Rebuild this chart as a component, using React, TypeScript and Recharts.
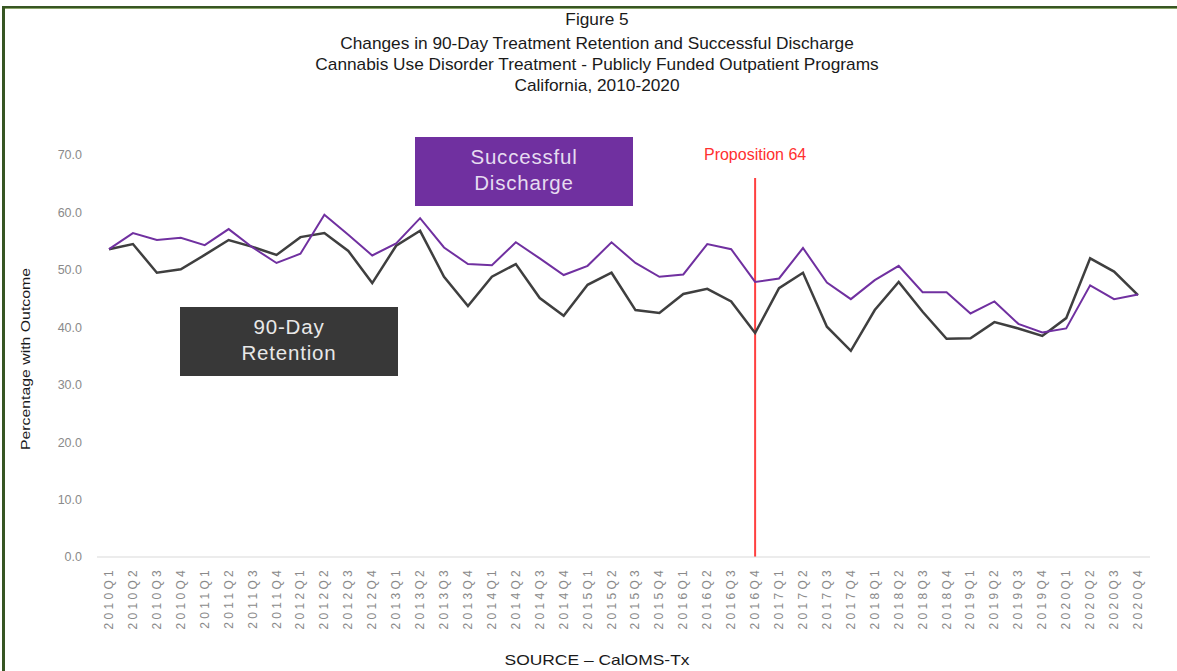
import React from "react";
import { LineChart, Line, XAxis, YAxis, ReferenceLine } from "recharts";

const categories = [
  "2010Q1","2010Q2","2010Q3","2010Q4",
  "2011Q1","2011Q2","2011Q3","2011Q4",
  "2012Q1","2012Q2","2012Q3","2012Q4",
  "2013Q1","2013Q2","2013Q3","2013Q4",
  "2014Q1","2014Q2","2014Q3","2014Q4",
  "2015Q1","2015Q2","2015Q3","2015Q4",
  "2016Q1","2016Q2","2016Q3","2016Q4",
  "2017Q1","2017Q2","2017Q3","2017Q4",
  "2018Q1","2018Q2","2018Q3","2018Q4",
  "2019Q1","2019Q2","2019Q3","2019Q4",
  "2020Q1","2020Q2","2020Q3","2020Q4",
];

const successfulDischarge = [
  53.6, 56.4, 55.2, 55.6,
  54.3, 57.1, 53.9, 51.2,
  52.8, 59.6, 56.1, 52.5,
  54.6, 59.0, 53.9, 51.0,
  50.8, 54.8, 52.0, 49.1,
  50.7, 54.8, 51.2, 48.8,
  49.2, 54.5, 53.6, 47.9,
  48.5, 53.8, 47.8, 44.9,
  48.2, 50.7, 46.1, 46.1,
  42.4, 44.5, 40.6, 39.1,
  39.8, 47.3, 44.9, 45.7,
];

const retention90Day = [
  53.6, 54.5, 49.5, 50.1,
  52.6, 55.2, 54.0, 52.6,
  55.7, 56.4, 53.3, 47.7,
  54.2, 56.8, 48.8, 43.7,
  48.8, 51.0, 45.1, 42.0,
  47.4, 49.5, 43.0, 42.5,
  45.8, 46.7, 44.5, 39.0,
  46.8, 49.5, 40.1, 35.9,
  43.0, 47.9, 42.7, 38.0,
  38.1, 40.9, 39.8, 38.5,
  41.6, 52.0, 49.7, 45.6,
];

const yTicks = [0, 10, 20, 30, 40, 50, 60, 70];

const titleLines = [
  "Figure 5",
  "Changes in 90-Day Treatment Retention and Successful Discharge",
  "Cannabis Use Disorder Treatment -  Publicly Funded Outpatient Programs",
  "California, 2010-2020",
];

const propositionCategory = "2016Q4";
const propositionLabel = "Proposition 64";
const sourceText = "SOURCE \u2013 CalOMS-Tx";
const yAxisTitle = "Percentage with Outcome";

const data = categories.map((c, i) => ({
  quarter: c,
  discharge: successfulDischarge[i],
  retention: retention90Day[i],
}));

const FONT = "'Liberation Sans', Arial, sans-serif";

const XTick = (props: any) => {
  const { x, y, payload } = props;
  return (
    <g transform={`translate(${x + 4},${y + 2})`}>
      <text
        transform="rotate(-90)"
        textAnchor="end"
        fill="#8a8a8a"
        fontSize={12}
        fontFamily={FONT}
        style={{ letterSpacing: "3.3px" }}
      >
        {payload.value}
      </text>
    </g>
  );
};

const titleYs = [25, 49, 70, 91];

const boxStyle: React.CSSProperties = {
  position: "absolute",
  width: 218,
  height: 69,
  fontSize: 20.5,
  letterSpacing: "0.8px",
  lineHeight: "26px",
  textAlign: "center",
  display: "flex",
  flexDirection: "column",
  justifyContent: "center",
  paddingBottom: 3,
  boxSizing: "border-box",
};

export default function App() {
  return (
    <div
      style={{
        position: "absolute",
        left: 0,
        top: 0,
        width: 1177,
        height: 671,
        background: "#ffffff",
        overflow: "hidden",
        fontFamily: FONT,
      }}
    >
      <div style={{ position: "absolute", left: 2, top: 6, right: 0, height: 2, background: "#375623" }} />
      <div style={{ position: "absolute", left: 4, top: 8, right: 0, height: 1, background: "#8aa56a" }} />
      <div style={{ position: "absolute", left: 2, top: 6, width: 3, bottom: 0, background: "#375623" }} />

      <div style={{ position: "absolute", left: 0, top: 0 }}>
        <LineChart
          width={1177}
          height={671}
          data={data}
          margin={{ top: 155, right: 27, bottom: 0, left: 0 }}
        >
          <XAxis
            dataKey="quarter"
            interval={0}
            height={114}
            padding={{ left: 12, right: 12 }}
            tickLine={false}
            axisLine={{ stroke: "#d9d9d9", strokeWidth: 1 }}
            tick={<XTick />}
          />
          <YAxis
            width={97}
            domain={[0, 70]}
            ticks={yTicks}
            tickLine={false}
            axisLine={false}
            tickSize={0}
            tickMargin={15}
            tickFormatter={(v: number) => v.toFixed(1)}
            tick={{ fill: "#8a8a8a", fontSize: 12.5, fontFamily: FONT }}
          />
          <ReferenceLine
            segment={[
              { x: propositionCategory, y: 0 },
              { x: propositionCategory, y: 66 },
            ]}
            stroke="#ff4040"
            strokeWidth={2}
            label={{
              value: propositionLabel,
              position: "top",
              offset: 18,
              fill: "#ff3030",
              fontSize: 16,
              fontFamily: FONT,
            }}
          />
          <Line
            type="linear"
            dataKey="retention"
            stroke="#3f3f3f"
            strokeWidth={2.5}
            dot={false}
            isAnimationActive={false}
          />
          <Line
            type="linear"
            dataKey="discharge"
            stroke="#7030a0"
            strokeWidth={2}
            dot={false}
            isAnimationActive={false}
          />
        </LineChart>
      </div>

      <div style={{ ...boxStyle, left: 415, top: 137, background: "#7030a0", color: "#e6dcf0" }}>
        <div>Successful</div>
        <div>Discharge</div>
      </div>
      <div style={{ ...boxStyle, left: 180, top: 307, background: "#383838", color: "#e8e8e8" }}>
        <div>90-Day</div>
        <div>Retention</div>
      </div>

      <svg
        width={1177}
        height={671}
        style={{ position: "absolute", left: 0, top: 0, pointerEvents: "none" }}
      >
        <g transform="translate(597,0) scale(1.08,1)">
          {titleLines.map((t, i) => (
            <text
              key={i}
              x={0}
              y={titleYs[i]}
              textAnchor="middle"
              fontSize={16}
              fontFamily={FONT}
              fill="#1a1a1a"
            >
              {t}
            </text>
          ))}
        </g>
        <text
          x={597}
          y={665}
          textAnchor="middle"
          fontSize={15}
          fontFamily={FONT}
          fill="#1a1a1a"
          textLength={185}
          lengthAdjust="spacingAndGlyphs"
        >
          {sourceText}
        </text>
        <text
          transform="translate(30,359) rotate(-90)"
          textAnchor="middle"
          fontSize={13.5}
          fontFamily={FONT}
          fill="#1a1a1a"
          textLength={182}
          lengthAdjust="spacingAndGlyphs"
        >
          {yAxisTitle}
        </text>
      </svg>
    </div>
  );
}
